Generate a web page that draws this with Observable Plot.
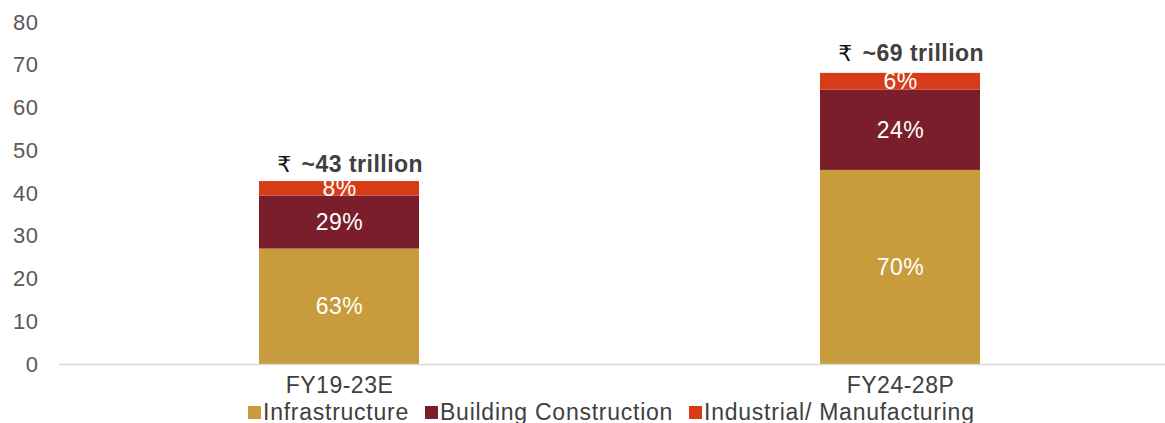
<!DOCTYPE html>
<html>
<head>
<meta charset="utf-8">
<script src="https://cdn.jsdelivr.net/npm/d3@7"></script>
<script src="https://cdn.jsdelivr.net/npm/@observablehq/plot@0.6"></script>
<style>
  html, body { margin: 0; padding: 0; background: #fff; }
  body { width: 1165px; height: 423px; overflow: hidden; font-family: "Liberation Sans", Arial, sans-serif; }
  #legend { position: relative; height: 23px; display: flex; align-items: center; padding-left: 248px; font-size: 23px; color: #404040; line-height: 23px; white-space: nowrap; letter-spacing: 0.75px; margin-top: 1px; }
  .item { display: flex; align-items: center; margin-right: 16px; }
  .sw { width: 13px; height: 13px; margin-right: 2px; }
</style>
</head>
<body>
<div id="chart"></div>
<div id="legend"></div>
<script>
const categories = ["FY19-23E", "FY24-28P"];
const seriesNames = ["Infrastructure", "Building Construction", "Industrial/ Manufacturing"];
const infrastructure = [27.0, 45.4];
const buildingConstruction = [12.4, 18.8];
const industrialManufacturing = [3.4, 3.9];
const shareLabels = [["63%", "70%"], ["29%", "24%"], ["8%", "6%"]];
const totalValues = [43, 69];
const totalLabels = ["~43 trillion", "~69 trillion"];
const yTicks = [0, 10, 20, 30, 40, 50, 60, 70, 80];
const colors = ["#C89B3C", "#7B1E2B", "#D83B17"];

const seriesValues = [infrastructure, buildingConstruction, industrialManufacturing];
const rows = [];
categories.forEach((c, i) => {
  seriesNames.forEach((s, j) => {
    rows.push({category: c, series: s, value: seriesValues[j][i], label: shareLabels[j][i]});
  });
});
const totals = categories.map((c, i) => ({category: c, total: totalValues[i], label: totalLabels[i]}));

const plot = Plot.plot({
  width: 1165,
  height: 400,
  marginLeft: 59,
  marginRight: 0,
  marginTop: 22,
  marginBottom: 36,
  style: {fontFamily: "'Liberation Sans', Arial, sans-serif", background: "#fff", letterSpacing: "0.5px"},
  x: {type: "band", domain: categories, range: [58.5, 1180.5], paddingInner: 0.715, paddingOuter: 0.357},
  y: {domain: [0, 80]},
  color: {domain: seriesNames, range: colors},
  marks: [
    Plot.barY(rows, {x: "category", y: "value", z: "series", fill: "series"}),
    Plot.ruleY([0], {stroke: "#d9d9d9", strokeWidth: 1.5}),
    Plot.text(rows, Plot.stackY({x: "category", y: "value", z: "series", text: "label", fill: "white", fontSize: 23})),
    Plot.text(totals, {x: "category", y: "total", text: () => "₹", dx: -55, dy: -16, fontSize: 22, fill: "#111", fontFamily: "'DejaVu Sans', 'Noto Sans', sans-serif"}),
    Plot.text(totals, {x: "category", y: "total", text: "label", dx: -38, dy: -16, textAnchor: "start", fontSize: 23, fontWeight: "bold", fill: "#404040"}),
    Plot.axisY({ticks: yTicks, tickSize: 0, tickPadding: 21, fontSize: 22, color: "#595959", label: null}),
    Plot.axisX({tickSize: 0, tickPadding: 12, fontSize: 23, color: "#404040", label: null})
  ]
});
document.getElementById("chart").appendChild(plot);

const legend = document.getElementById("legend");
seriesNames.forEach((s, j) => {
  const item = document.createElement("div");
  item.className = "item";
  const sw = document.createElement("span");
  sw.className = "sw";
  sw.style.background = colors[j];
  const t = document.createElement("span");
  t.textContent = s;
  item.appendChild(sw);
  item.appendChild(t);
  legend.appendChild(item);
});
</script>
</body>
</html>
